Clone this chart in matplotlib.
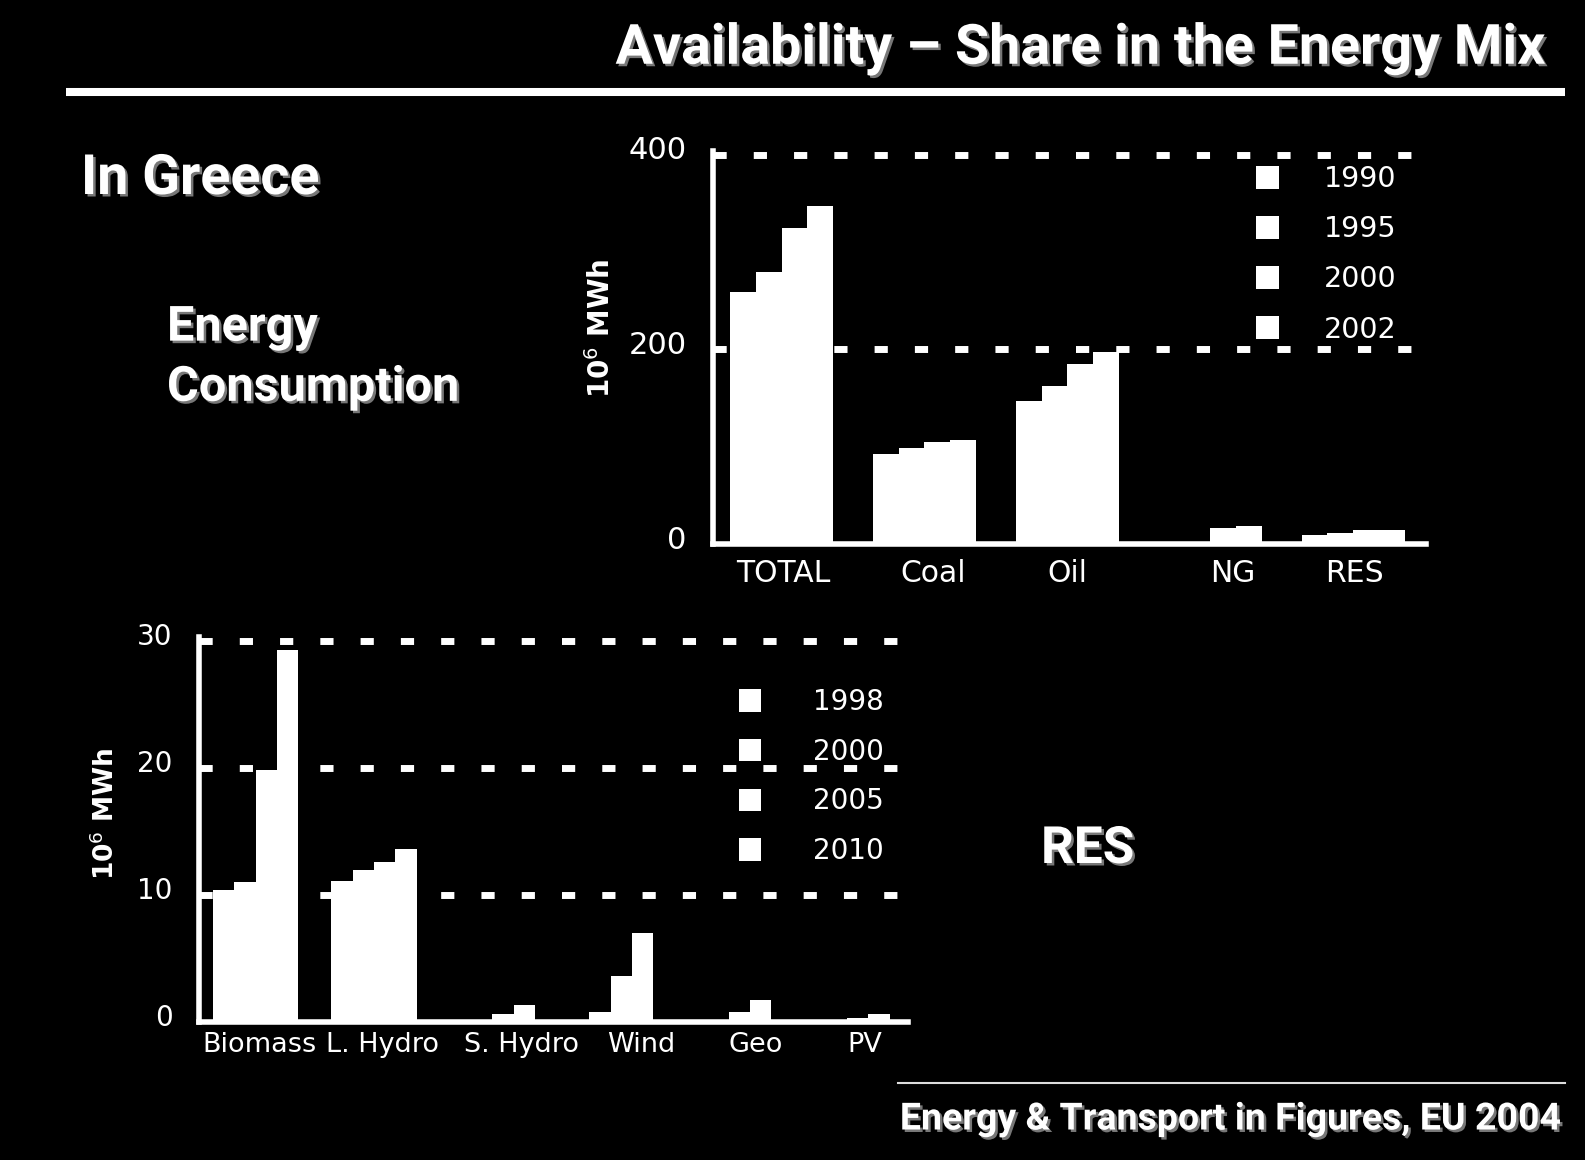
import matplotlib.pyplot as plt
import matplotlib.patheffects as pe
import matplotlib.transforms as mtransforms
from matplotlib.lines import Line2D
import numpy as np

plt.rcParams["font.family"] = ["DejaVu Sans"]

# energy consumption in Greece, 10^6 MWh
fuels = ["TOTAL", "Coal", "Oil", "NG", "RES"]
cons_years = ["1990", "1995", "2000", "2002"]
cons_1990 = [259, 92.5, 146.5, 0, 9]
cons_1995 = [280, 99, 162, 0, 11]
cons_2000 = [325, 104.5, 185.5, 16.5, 14]
cons_2002 = [347, 107, 197, 18.5, 14]

# renewable energy sources, 10^6 MWh
res_types = ["Biomass", "L. Hydro", "S. Hydro", "Wind", "Geo", "PV"]
res_years = ["1998", "2000", "2005", "2010"]
res_1998 = [10.4, 11.1, 0, 0, 0, 0]
res_2000 = [11.0, 12.0, 0, 0.75, 0, 0]
res_2005 = [19.8, 12.6, 0.65, 3.6, 0.75, 0.3]
res_2010 = [29.3, 13.6, 1.35, 7.0, 1.7, 0.6]

W, H = 1585, 1160
fig = plt.figure(figsize=(W / 100, H / 100), dpi=100, facecolor="black")

shadow = [pe.SimplePatchShadow(offset=(1.8, -1.8), shadow_rgbFace="#777777", alpha=1), pe.Normal()]
big_font = ["Roboto", "DejaVu Sans"]


def bar_panel(rect, cats, years, series, yticks, ytop, tick_fs, cat_fs, leg_fs, leg_xy, leg_pad,
              cat_pad, label_shift):
    ax = fig.add_axes(rect, facecolor="black")
    x = np.arange(len(cats))
    w = 0.18
    handles = []
    for i, (yr, vals) in enumerate(zip(years, series)):
        b = ax.bar(x + (i - 1.5) * w, vals, width=w, color="white", linewidth=0, label=yr, zorder=2)
        handles.append(b)
    for v in yticks[1:]:
        ax.axhline(v, color="white", lw=5, ls=(0, (1.9, 3.9)), zorder=1)
    ax.set_xlim(-0.48, len(cats) - 0.49)
    ax.set_ylim(0, ytop)
    ax.set_xticks(x + np.array(label_shift))
    ax.set_xticklabels(cats, fontsize=cat_fs, color="white")
    ax.set_yticks(yticks)
    ax.set_yticklabels([str(v) for v in yticks], fontsize=tick_fs, color="white")
    ax.tick_params(axis="y", length=0, pad=19)
    ax.tick_params(axis="x", length=0, pad=cat_pad)
    for s in ["top", "right"]:
        ax.spines[s].set_visible(False)
    for s in ["left", "bottom"]:
        ax.spines[s].set_color("white")
        ax.spines[s].set_linewidth(4)
        ax.spines[s].set_zorder(3)
    up = mtransforms.ScaledTranslation(0, 5 / 72, fig.dpi_scale_trans)
    for lab in ax.get_yticklabels():
        lab.set_transform(lab.get_transform() + up)
    ax.legend(handles=handles, loc="upper left", bbox_to_anchor=(leg_xy[0] / W, 1 - leg_xy[1] / H),
              bbox_transform=fig.transFigure, frameon=False, fontsize=leg_fs, labelcolor="white",
              handlelength=0.8, handleheight=0.86, handletextpad=leg_pad, labelspacing=0.78,
              borderpad=0, borderaxespad=0)
    return ax


bar_panel([713 / W, 1 - 544 / H, 713 / W, 393 / H], fuels, cons_years,
          [cons_1990, cons_1995, cons_2000, cons_2002], [0, 200, 400], 404,
          22, 21.5, 20.5, (1256, 165), 1.6, 10.5, [0.01, 0.06, 0, 0.16, 0.01])
bar_panel([199 / W, 1 - 1022 / H, 708.5 / W, 385 / H], res_types, res_years,
          [res_1998, res_2000, res_2005, res_2010], [0, 10, 20, 30], 30.3,
          20, 19.5, 20, (739, 688), 1.85, 7.5, [0.03, 0.07, 0.25, 0.26, 0.23, 0.15])

fig.text(601 / W, 1 - 328 / H, "10$^6$ MWh", rotation=90, ha="center", va="center",
         color="white", fontsize=20, fontweight="bold")
fig.text(106 / W, 1 - 814 / H, "10$^6$ MWh", rotation=90, ha="center", va="center",
         color="white", fontsize=19, fontweight="bold")

fig.text(1545 / W, 1 - 49 / H, "Availability – Share in the Energy Mix", ha="right", va="center",
         color="white", fontsize=40, fontweight="bold", family=big_font, path_effects=shadow)
fig.add_artist(Line2D([66 / W, 1565 / W], [1 - 91.5 / H] * 2, transform=fig.transFigure,
                      color="white", lw=5.8, solid_capstyle="butt"))

fig.text(81 / W, 1 - 179 / H, "In Greece", ha="left", va="center", color="white",
         fontsize=40, fontweight="bold", family=big_font, path_effects=shadow)
fig.text(167 / W, 1 - 358 / H, "Energy\nConsumption", ha="left", va="center", color="white",
         fontsize=35, fontweight="bold", family=big_font, linespacing=1.38, path_effects=shadow)
fig.text(1041 / W, 1 - 849 / H, "RES", ha="left", va="center", color="white",
         fontsize=37, fontweight="bold", family=big_font, path_effects=shadow)

fig.add_artist(Line2D([898 / W, 1565 / W], [1 - 1083 / H] * 2, transform=fig.transFigure,
                      color="#dddddd", lw=1.5))
fig.text(1561 / W, 1 - 1119 / H, "Energy & Transport in Figures, EU 2004", ha="right", va="center",
         color="white", fontsize=27, fontweight="bold", family=big_font, path_effects=shadow)

fig.savefig("out.png", dpi=100, facecolor="black")
